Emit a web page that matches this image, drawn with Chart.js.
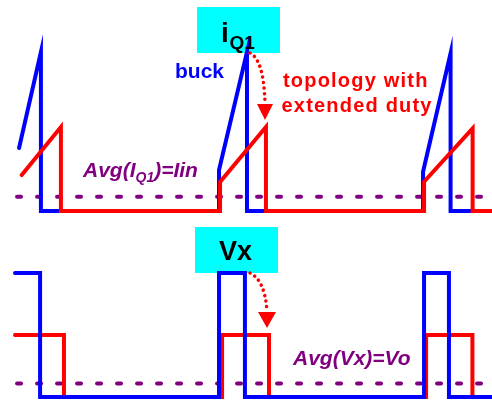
<!DOCTYPE html>
<html>
<head>
<meta charset="utf-8">
<title>Buck vs extended duty topology</title>
<script src="https://cdn.jsdelivr.net/npm/chart.js@4.4.0/dist/chart.umd.min.js"></script>
<style>
  html, body { margin: 0; padding: 0; background: #fff; }
  #wrap { width: 492px; height: 401px; }
</style>
</head>
<body>
<div id="wrap"><canvas id="waveChart" width="492" height="401"></canvas></div>
<script>
// Time in us (one switching period = 10 us), current in A, voltage in V

// iQ1, buck
const tBuckI = [0.2, 1.27, 1.27, 10.0, 10.0, 11.37, 11.37, 20.0, 20.0, 21.35, 21.35, 23.4];
const iBuck  = [3.96, 10, 0, 0, 2.58, 10, 0, 0, 2.47, 9.92, 0, 0];
// iQ1, topology with extended duty
const tExtI  = [0.33, 2.25, 2.25, 10.05, 10.05, 12.3, 12.3, 20.05, 20.05, 22.43, 22.43, 23.4];
const iExt   = [2.26, 5.28, 0, 0, 1.82, 5.28, 0, 0, 1.84, 5.2, 0, 0];
// Vx, buck
const tBuckV = [0, 1.23, 1.23, 10.0, 10.0, 11.27, 11.27, 20.05, 20.05, 21.27, 21.27, 23.4];
const vBuck  = [10, 10, 0, 0, 10, 10, 0, 0, 10, 10, 0, 0];
// Vx, topology with extended duty
const tExtV  = [0, 2.4, 2.4, 10.15, 10.15, 12.45, 12.45, 20.15, 20.15, 22.42, 22.42, 23.4];
const vExt   = [5, 5, 0, 0, 5, 5, 0, 0, 5, 5, 0, 0];
// averages
const tAvg = [0.1, 23.4];
const avgIQ1 = 0.9;  // Iin
const avgVx = 1.1;   // Vo

const FONT = '"Liberation Sans", Arial, sans-serif';
const BLUE = '#0000ff';
const RED = '#ff0000';
const PURPLE = '#800080';

function toPoints(ts, vs) {
  return ts.map((t, i) => ({ x: t, y: vs[i] }));
}

function wave(label, ts, vs, color, axis, order) {
  return {
    label: label,
    data: toPoints(ts, vs),
    yAxisID: axis,
    borderColor: color,
    borderWidth: 4,
    borderJoinStyle: 'miter',
    borderCapStyle: 'round',
    pointRadius: 0,
    tension: 0,
    fill: false,
    order: order
  };
}

function avgLine(label, value, axis) {
  return {
    label: label,
    data: toPoints(tAvg, tAvg.map(() => value)),
    yAxisID: axis,
    borderColor: PURPLE,
    borderWidth: 4,
    borderDash: [4, 16],
    borderCapStyle: 'round',
    pointRadius: 0,
    fill: false,
    order: 10
  };
}

function dottedArrow(ctx, x0, y0, cx, cy, x1, y1, tipY, halfW) {
  ctx.save();
  ctx.strokeStyle = RED;
  ctx.lineWidth = 3.5;
  ctx.lineCap = 'round';
  ctx.setLineDash([0.1, 5.5]);
  ctx.beginPath();
  ctx.moveTo(x0, y0);
  ctx.quadraticCurveTo(cx, cy, x1, y1);
  ctx.stroke();
  ctx.setLineDash([]);
  ctx.fillStyle = RED;
  ctx.beginPath();
  ctx.moveTo(x1 - halfW, y1);
  ctx.lineTo(x1 + halfW, y1);
  ctx.lineTo(x1, tipY);
  ctx.closePath();
  ctx.fill();
  ctx.restore();
}

function text(ctx, str, x, y, font, color, spacing) {
  ctx.font = font;
  ctx.fillStyle = color;
  ctx.letterSpacing = spacing || '0px';
  ctx.fillText(str, x, y);
  const w = ctx.measureText(str).width;
  ctx.letterSpacing = '0px';
  return x + w;
}

// Cyan label boxes under the waveforms, text and arrows on top
const annotations = {
  id: 'annotations',
  beforeDatasetsDraw(chart) {
    const ctx = chart.ctx;
    ctx.save();
    ctx.fillStyle = '#00ffff';
    ctx.fillRect(197, 7, 83, 46);
    ctx.fillRect(195, 227, 83, 46);
    ctx.restore();
  },
  afterDatasetsDraw(chart) {
    const ctx = chart.ctx;
    ctx.save();
    ctx.textAlign = 'left';
    ctx.textBaseline = 'alphabetic';

    // box titles
    text(ctx, 'i', 221, 41.5, 'bold 28px ' + FONT, '#000');
    text(ctx, 'Q1', 229.5, 49, 'bold 19px ' + FONT, '#000');
    ctx.textAlign = 'center';
    text(ctx, 'Vx', 235.5, 259.5, 'bold 27px ' + FONT, '#000');
    ctx.textAlign = 'left';

    // series labels
    text(ctx, 'buck', 175, 78, 'bold 21px ' + FONT, BLUE);
    text(ctx, 'topology with', 283, 87, 'bold 20px ' + FONT, RED, '1.2px');
    text(ctx, 'extended duty', 281.5, 112, 'bold 20px ' + FONT, RED, '1.2px');

    // averages
    let x = text(ctx, 'Avg(I', 83, 177, 'italic bold 21px ' + FONT, PURPLE);
    x = text(ctx, 'Q1', x, 182, 'italic bold 14px ' + FONT, PURPLE);
    text(ctx, ')=Iin', x, 177, 'italic bold 21px ' + FONT, PURPLE);
    text(ctx, 'Avg(Vx)=Vo', 293, 365, 'italic bold 21px ' + FONT, PURPLE);

    dottedArrow(ctx, 250, 53, 264, 60, 265, 104, 120, 8);
    dottedArrow(ctx, 250, 273, 265, 280, 267, 312, 328, 9);
    ctx.restore();
  }
};

const chart = new Chart(document.getElementById('waveChart'), {
  type: 'line',
  data: {
    datasets: [
      avgLine('Avg(IQ1)', avgIQ1, 'yI'),
      avgLine('Avg(Vx)', avgVx, 'yV'),
      wave('iQ1 buck', tBuckI, iBuck, BLUE, 'yI', 5),
      wave('iQ1 extended duty', tExtI, iExt, RED, 'yI', 4),
      wave('Vx extended duty', tExtV, vExt, RED, 'yV', 3),
      wave('Vx buck', tBuckV, vBuck, BLUE, 'yV', 2)
    ]
  },
  options: {
    responsive: false,
    animation: false,
    devicePixelRatio: 1,
    layout: { padding: 0 },
    plugins: {
      legend: { display: false },
      tooltip: { enabled: false }
    },
    scales: {
      x: { type: 'linear', min: -0.735, max: 23.38, display: false },
      // current panel sits in the upper part of the canvas
      yI: { type: 'linear', min: -11.95, max: 13.27, display: false },
      // voltage panel sits in the lower part
      yV: { type: 'linear', min: -0.32, max: 32.02, display: false }
    }
  },
  plugins: [annotations]
});
</script>
</body>
</html>
